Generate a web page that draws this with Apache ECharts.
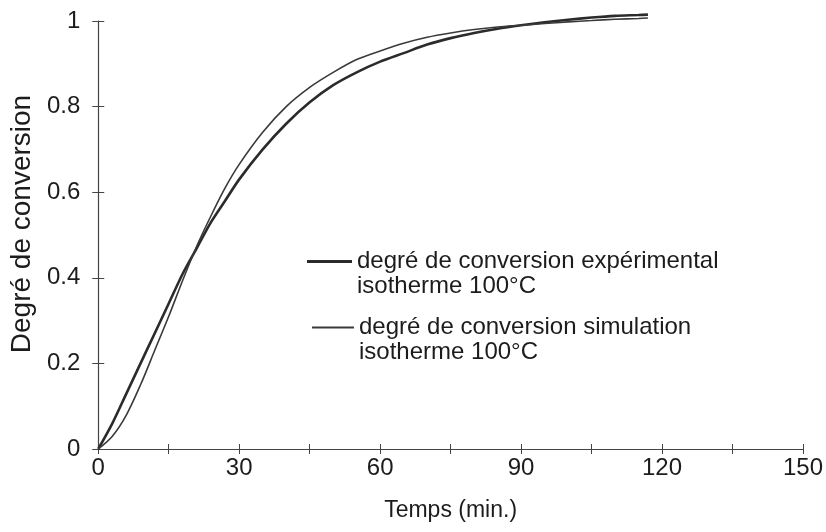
<!DOCTYPE html>
<html>
<head>
<meta charset="utf-8">
<script src="https://cdn.jsdelivr.net/npm/echarts@6/dist/echarts.min.js"></script>
<style>
html,body{margin:0;padding:0;background:#fff;}
#chart{width:826px;height:532px;}
</style>
</head>
<body>
<div id="chart"></div>
<script>
// temps en minutes
var temps = [0, 3, 6, 9, 12, 15, 18, 21, 24, 27, 30, 35, 40, 45, 50, 55, 60, 65, 70, 75, 80, 85, 90, 95, 100, 105, 110, 115, 117];
// degré de conversion expérimental (trait épais)
var experimental = [0, 0.06, 0.13, 0.20, 0.27, 0.34, 0.41, 0.47, 0.53, 0.58, 0.63, 0.70, 0.76, 0.81, 0.85, 0.88, 0.905, 0.925, 0.945, 0.96, 0.972, 0.982, 0.99, 0.997, 1.003, 1.008, 1.012, 1.014, 1.015];
// degré de conversion simulation (trait fin)
var simulation = [0, 0.03, 0.08, 0.15, 0.23, 0.31, 0.395, 0.475, 0.545, 0.61, 0.665, 0.74, 0.80, 0.845, 0.88, 0.91, 0.93, 0.948, 0.962, 0.972, 0.98, 0.986, 0.99, 0.994, 0.998, 1.001, 1.004, 1.006, 1.007];
var noms = ['degré de conversion expérimental\nisotherme 100°C', 'degré de conversion simulation\nisotherme 100°C'];

var sans = "'Liberation Sans',Arial,sans-serif";

function paires(ys) {
  var out = [];
  for (var i = 0; i < temps.length; i++) out.push([temps[i], ys[i]]);
  return out;
}

var axisCol = '#444';
var txtCol = '#1c1c1c';

// ligne vide devant : le trait de légende s'aligne sur la 1re ligne du texte
function legendeTexte(name) { return '\n' + name; }

var myChart = echarts.init(document.getElementById('chart'));
myChart.setOption({
  animation: false,
  backgroundColor: '#fff',
  grid: { left: 97, right: 23, top: 21, bottom: 83 },
  legend: [
    {
      data: [noms[0]], orient: 'vertical', left: 307, top: 224, padding: 0,
      icon: 'rect', itemWidth: 45, itemHeight: 3, formatter: legendeTexte,
      textStyle: { fontFamily: sans, fontSize: 24, lineHeight: 25, color: txtCol }
    },
    {
      data: [noms[1]], orient: 'vertical', left: 312, top: 290, padding: 0,
      icon: 'rect', itemWidth: 42, itemHeight: 2, formatter: legendeTexte,
      textStyle: { fontFamily: sans, fontSize: 24, lineHeight: 25, color: txtCol }
    }
  ],
  xAxis: [
    {
      type: 'value', min: 0, max: 150, interval: 15,
      name: 'Temps (min.)', nameLocation: 'middle', nameGap: 50,
      nameTextStyle: { fontFamily: sans, fontSize: 23, color: txtCol },
      axisLine: { lineStyle: { color: axisCol, width: 1.2 } },
      axisTick: { length: 5, lineStyle: { color: axisCol } },
      axisLabel: {
        margin: 7, fontFamily: sans, fontSize: 24, color: txtCol,
        formatter: function (v) { return v % 30 === 0 ? String(v) : ''; }
      },
      splitLine: { show: false }
    },
    {
      type: 'value', min: 0, max: 150, interval: 15, position: 'bottom',
      axisLine: { show: false },
      axisTick: { inside: true, length: 5, lineStyle: { color: axisCol } },
      axisLabel: { show: false },
      splitLine: { show: false }
    }
  ],
  yAxis: [
    {
      type: 'value', min: 0, max: 1, interval: 0.2,
      name: 'Degré de conversion', nameLocation: 'middle', nameGap: 40,
      nameTextStyle: { fontFamily: sans, fontSize: 28, color: txtCol, padding: [0, 0, 0, 22] },
      axisLine: { show: true, lineStyle: { color: axisCol, width: 1.2 } },
      axisTick: { show: true, length: 6, lineStyle: { color: axisCol } },
      axisLabel: { margin: 18, fontFamily: sans, fontSize: 24, color: txtCol },
      splitLine: { show: false }
    },
    {
      type: 'value', min: 0, max: 1, interval: 0.2, position: 'left',
      axisLine: { show: false },
      axisTick: { show: true, inside: true, length: 6, lineStyle: { color: axisCol } },
      axisLabel: { show: false },
      splitLine: { show: false }
    }
  ],
  series: [
    {
      name: noms[0], type: 'line', data: paires(experimental),
      smooth: 0.3, showSymbol: false, clip: false,
      color: '#2b2b2b',
      lineStyle: { color: '#2b2b2b', width: 2.6 }
    },
    {
      name: noms[1], type: 'line', data: paires(simulation),
      smooth: 0.3, showSymbol: false, clip: false,
      color: '#3a3a3a',
      lineStyle: { color: '#3a3a3a', width: 1.6 }
    }
  ]
});

window.addEventListener('resize', function () { myChart.resize(); });
</script>
</body>
</html>
